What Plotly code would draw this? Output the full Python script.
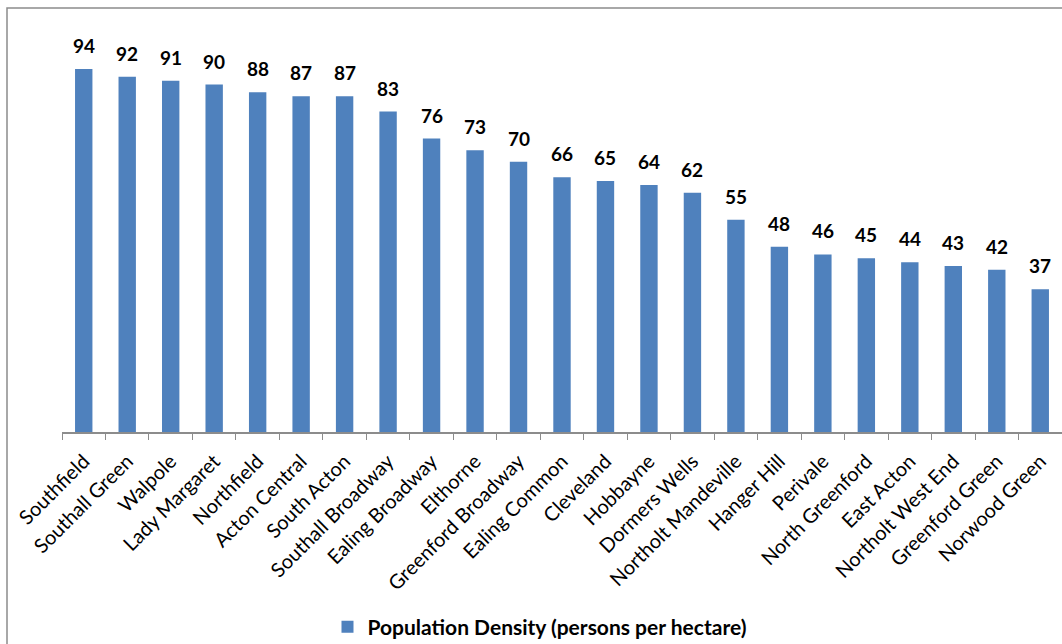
import plotly.graph_objects as go

wards = ["Southfield", "Southall Green", "Walpole", "Lady Margaret", "Northfield",
         "Acton Central", "South Acton", "Southall Broadway", "Ealing Broadway",
         "Elthorne", "Greenford Broadway", "Ealing Common", "Cleveland", "Hobbayne",
         "Dormers Wells", "Northolt Mandeville", "Hanger Hill", "Perivale",
         "North Greenford", "East Acton", "Northolt West End", "Greenford Green",
         "Norwood Green"]
density = [94, 92, 91, 90, 88, 87, 87, 83, 76, 73, 70, 66, 65, 64, 62, 55, 48, 46,
           45, 44, 43, 42, 37]
series_name = "Population Density (persons per hectare)"

FONT = "Lato, 'Open Sans', sans-serif"

fig = go.Figure(go.Bar(
    x=wards, y=density, name=series_name,
    marker=dict(color="#4F81BD", line=dict(width=0)),
    width=0.4,
    cliponaxis=False,
    showlegend=True,
))

for w, v in zip(wards, density):
    fig.add_annotation(x=w, y=v, text=str(v), showarrow=False, yanchor="bottom",
                       yshift=10,
                       font=dict(family=FONT, size=19, color="#000000", weight="bold"))

fig.update_layout(
    width=1062, height=644,
    margin=dict(l=62, r=0, t=0, b=212),
    paper_bgcolor="white", plot_bgcolor="white",
    bargap=0.6,
    xaxis=dict(range=[-0.5, 22.5], showline=True, linecolor="#8c8c8c", linewidth=1.5,
               ticks="outside", tickson="boundaries", ticklen=6, tickcolor="#8c8c8c",
               tickangle=-45, tickfont=dict(family=FONT, size=20, color="#000000"),
               ticklabelstandoff=8,
               showgrid=False, zeroline=False),
    yaxis=dict(range=[0, 111.9], visible=False, showgrid=False, zeroline=False),
    legend=dict(orientation="h", x=0.508, xanchor="center", xref="container",
                y=1 - 627 / 644, yanchor="middle", yref="container",
                font=dict(family=FONT, size=21, color="#000000", weight="bold"),
                itemwidth=30),
    shapes=[dict(type="rect", xref="paper", yref="paper",
                 x0=(7 - 62) / 1000, x1=(1075 - 62) / 1000,
                 y0=(432 - 660) / 432, y1=(432 - 8) / 432,
                 line=dict(color="#8c8c8c", width=1.5), fillcolor="rgba(0,0,0,0)",
                 layer="below")],
)

fig.write_html("out.html")
